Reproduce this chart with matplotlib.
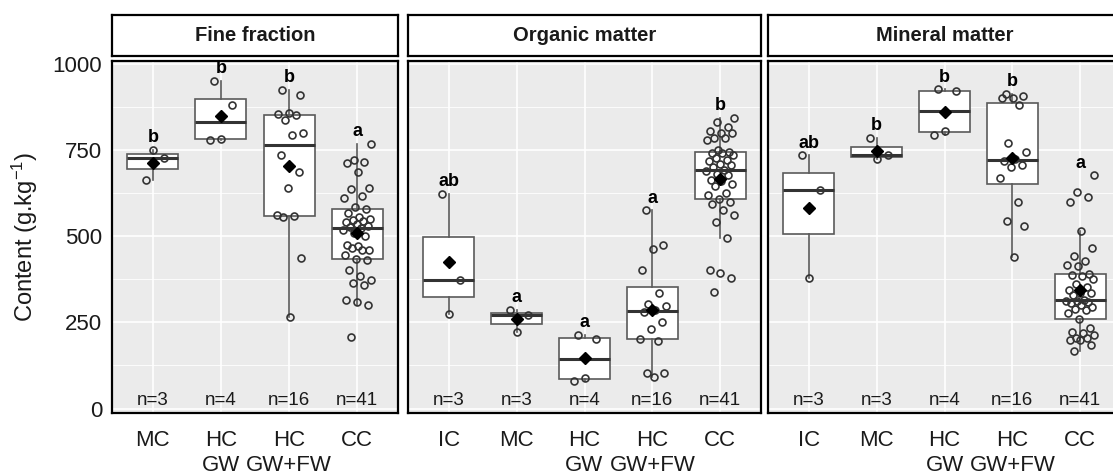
import numpy as np
import matplotlib
matplotlib.use('Agg')
import matplotlib.pyplot as plt
from matplotlib.ticker import FixedLocator

plt.rcParams['font.family'] = ['Liberation Sans', 'DejaVu Sans']
plt.rcParams['mathtext.default'] = 'regular'

# ---------------- data ----------------
panel_titles = ['Fine fraction', 'Organic matter', 'Mineral matter']
cats_ff = ['MC', 'HC\nGW', 'HC\nGW+FW', 'CC']
cats_5 = ['IC', 'MC', 'HC\nGW', 'HC\nGW+FW', 'CC']
y_ticks = [0, 250, 500, 750, 1000]
y_minor = [125, 375, 625, 875]

ff_MC = [662, 727, 750]
ff_HCGW = [950, 880, 782, 779]
ff_HCGWFW = [924, 909, 858, 855, 852, 837, 800, 793, 736, 685, 640, 560, 558, 556, 437, 265]
ff_CC = [206, 301, 309, 315, 358, 364, 372, 384, 401, 432, 435, 444, 461, 466, 461, 470,
         475, 500, 510, 518, 525, 527, 530, 535, 540, 545, 547, 550, 555, 568, 580, 585,
         610, 615, 636, 641, 685, 712, 714, 722, 768]

om_IC = [623, 374, 274]
om_MC = [286, 270, 221]
om_HCGW = [214, 201, 89, 80]
om_HCGWFW = [575, 473, 463, 403, 335, 304, 298, 286, 280, 252, 231, 202, 195, 104, 102, 92]
om_CC = [337, 379, 393, 402, 495, 540, 562, 575, 592, 600, 609, 620, 626, 645, 650, 659,
         664, 677, 679, 690, 693, 700, 705, 710, 717, 720, 728, 735, 740, 742, 745, 750,
         780, 785, 785, 798, 800, 805, 816, 830, 844]

mm_IC = [734, 633, 380]
mm_MC = [785, 735, 724]
mm_HCGW = [926, 920, 805, 792]
mm_HCGWFW = [913, 906, 900, 900, 880, 770, 745, 725, 718, 705, 700, 670, 600, 543, 528, 440]
mm_CC = [168, 185, 199, 199, 204, 204, 214, 218, 223, 233, 259, 277, 286, 290, 295, 300,
         306, 310, 312, 313, 315, 330, 335, 335, 345, 352, 362, 375, 385, 388, 390, 414,
         417, 427, 443, 467, 514, 600, 614, 627, 676]

letters_ff = ['b', 'b', 'b', 'a']
letters_om = ['ab', 'a', 'a', 'a', 'b']
letters_mm = ['ab', 'b', 'b', 'b', 'a']

panels = [
    ([ff_MC, ff_HCGW, ff_HCGWFW, ff_CC], cats_ff, letters_ff),
    ([om_IC, om_MC, om_HCGW, om_HCGWFW, om_CC], cats_5, letters_om),
    ([mm_IC, mm_MC, mm_HCGW, mm_HCGWFW, mm_CC], cats_5, letters_mm),
]

# ---------------- layout ----------------
W, H = 1113, 475
fig = plt.figure(figsize=(W / 100, H / 100), dpi=100)
panel_px = [(112, 398), (408, 761), (768, 1121)]
p_bottom, p_top = 413, 61
s_bottom, s_top = 56, 15

box_col = '#5a5a5a'
for k, ((groups, labels, letters), (x0, x1)) in enumerate(zip(panels, panel_px)):
    ax = fig.add_axes([x0 / W, 1 - p_bottom / H, (x1 - x0) / W, (p_bottom - p_top) / H])
    pos = np.arange(1, len(groups) + 1)
    ax.boxplot(groups, positions=pos, widths=0.75, whis=1.5, patch_artist=True,
               showfliers=False, showcaps=False,
               boxprops=dict(facecolor='white', edgecolor=box_col, linewidth=1.2),
               medianprops=dict(color='#333333', linewidth=2.2),
               whiskerprops=dict(color=box_col, linewidth=1.2), zorder=2)
    for i, vals in enumerate(groups):
        v = np.asarray(vals, dtype=float)
        n = len(v)
        off = ((np.arange(n) * 0.6180339887 + 0.27) % 1.0 - 0.5) * 0.42
        ax.plot(pos[i] + off, v, 'o', mfc='none', mec='#333333', ms=5.0, mew=1.2, zorder=3)
        ax.plot(pos[i], v.mean(), 'D', color='black', ms=6.0, zorder=4)
        ax.text(pos[i], v.max() + 22, letters[i], ha='center', va='baseline',
                fontweight='bold', fontsize=13, color='black', zorder=5)
        ax.text(pos[i], 10, f'n={n}', ha='center', va='baseline', fontsize=13.5,
                color='#1a1a1a', zorder=5)
    ax.set_xlim(0.4, len(groups) + 0.6)
    ax.set_ylim(-13, 1008)
    ax.set_facecolor('#EBEBEB')
    ax.set_xticks(pos)
    ax.set_xticklabels(labels, fontsize=16, color='#1a1a1a', linespacing=1.3)
    ax.yaxis.set_major_locator(FixedLocator(y_ticks))
    ax.yaxis.set_minor_locator(FixedLocator(y_minor))
    ax.grid(which='major', color='white', linewidth=1.2)
    ax.grid(which='minor', axis='y', color='white', linewidth=0.6)
    ax.set_axisbelow(True)
    ax.tick_params(axis='x', length=0, pad=12)
    ax.tick_params(axis='y', which='both', length=0, pad=7, labelsize=16, labelcolor='#1a1a1a')
    if k > 0:
        ax.set_yticklabels([])
    for sp in ax.spines.values():
        sp.set_color('black')
        sp.set_linewidth(1.6)
        sp.set_zorder(6)

    sax = fig.add_axes([x0 / W, 1 - s_bottom / H, (x1 - x0) / W, (s_bottom - s_top) / H])
    sax.set_facecolor('white')
    sax.set_xticks([])
    sax.set_yticks([])
    for sp in sax.spines.values():
        sp.set_color('black')
        sp.set_linewidth(1.6)
    sax.text(0.5, 0.5, panel_titles[k], ha='center', va='center', fontsize=14.5,
             fontweight='bold', color='#1a1a1a', transform=sax.transAxes)

fig.text(25 / W, 1 - 236.5 / H, 'Content (g.kg$^{-1}$)', rotation=90, ha='center',
         va='center', fontsize=17, color='#1a1a1a')

fig.savefig('out.png', dpi=100)
